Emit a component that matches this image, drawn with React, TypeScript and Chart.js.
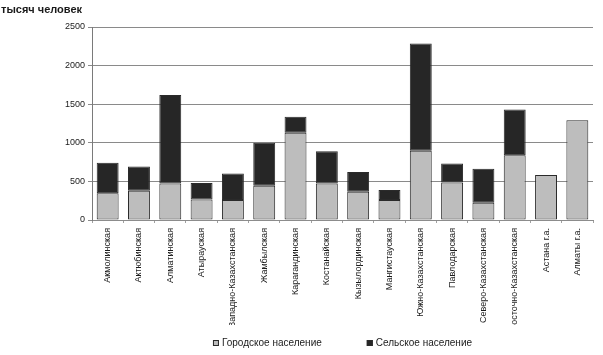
import React, { useEffect, useRef } from "react";
import { Chart, registerables } from "chart.js";

Chart.register(...registerables);

const categories = [
  "Акмолинская",
  "Актюбинская",
  "Алматинская",
  "Атырауская",
  "Западно-Казахстанская",
  "Жамбылская",
  "Карагандинская",
  "Костанайская",
  "Кызылординская",
  "Мангистауская",
  "Южно-Казахстанская",
  "Павлодарская",
  "Северо-Казахстанская",
  "Восточно-Казахстанская",
  "Астана г.а.",
  "Алматы г.а.",
];

const urbanPopulation = [345, 379, 474, 267, 259, 444, 1129, 474, 366, 259, 896, 487, 224, 840, 582, 1293];
const ruralPopulation = [395, 315, 1146, 211, 344, 556, 207, 418, 255, 129, 1389, 246, 440, 591, 0, 0];

const seriesNames = ["Городское население", "Сельское население"];
const unitLabel = "тысяч человек";
const yMax = 2500;
const yStep = 500;

const urbanColor = "#bdbdbd";
const ruralColor = "#262626";
const borderColor = "#2a2a2a";

const textPlugin = {
  id: "textPlugin",
  afterDraw(chart: any) {
    const ctx = chart.ctx as CanvasRenderingContext2D;
    const ca = chart.chartArea;
    ctx.save();
    ctx.fillStyle = "#1a1a1a";
    ctx.textBaseline = "alphabetic";
    ctx.textAlign = "left";
    ctx.font = 'bold 11px "Liberation Sans", Arial, sans-serif';
    ctx.fillText(unitLabel, 1, 13);

    ctx.font = '10px "Liberation Sans", Arial, sans-serif';
    const box = 6;
    const gap = 3;
    const sep = 45;
    const widths = seriesNames.map((t) => ctx.measureText(t).width);
    const total = widths.reduce((a, w) => a + box + gap + w, 0) + sep * (seriesNames.length - 1);
    let x = (ca.left + ca.right) / 2 - total / 2;
    const y = chart.height - 12;
    const colors = [urbanColor, ruralColor];
    seriesNames.forEach((t, i) => {
      ctx.fillStyle = colors[i];
      ctx.fillRect(x, y - box / 2, box, box);
      ctx.strokeStyle = borderColor;
      ctx.lineWidth = 1;
      ctx.strokeRect(x + 0.5, y - box / 2 + 0.5, box - 1, box - 1);
      ctx.fillStyle = "#1a1a1a";
      ctx.textBaseline = "middle";
      ctx.fillText(t, x + box + gap, y);
      x += box + gap + widths[i] + sep;
    });
    ctx.restore();
  },
};

export default function App() {
  const canvasRef = useRef<HTMLCanvasElement>(null);

  useEffect(() => {
    document.body.style.margin = "0";
    const canvas = canvasRef.current;
    if (!canvas) return;
    const zeroAware = (c: any) => (c.raw === 0 ? 0 : 1);
    const chart = new Chart(canvas, {
      type: "bar",
      data: {
        labels: categories,
        datasets: [
          {
            label: seriesNames[0],
            data: urbanPopulation,
            backgroundColor: urbanColor,
            borderColor: borderColor,
            borderWidth: zeroAware,
            borderSkipped: false,
          },
          {
            label: seriesNames[1],
            data: ruralPopulation,
            backgroundColor: ruralColor,
            borderColor: borderColor,
            borderWidth: zeroAware,
            borderSkipped: false,
          },
        ],
      },
      options: {
        animation: false,
        responsive: false,
        maintainAspectRatio: false,
        layout: { padding: { left: 0, right: 10, top: 27, bottom: 30 } },
        datasets: { bar: { categoryPercentage: 1, barPercentage: 0.7 } },
        plugins: {
          legend: { display: false },
          title: { display: false },
          tooltip: { enabled: false },
        },
        scales: {
          x: {
            stacked: true,
            offset: true,
            grid: {
              display: true,
              drawOnChartArea: false,
              drawTicks: true,
              tickLength: 3,
              offset: true,
              color: "#a0a0a0",
            },
            border: { display: true, color: "#8c8c8c" },
            ticks: {
              minRotation: 90,
              maxRotation: 90,
              autoSkip: false,
              padding: 5,
              color: "#1a1a1a",
              font: { family: '"Liberation Sans", Arial, sans-serif', size: 9 },
            },
            afterFit(scale: any) {
              scale.height = 105;
            },
          },
          y: {
            stacked: true,
            min: 0,
            max: yMax,
            ticks: {
              stepSize: yStep,
              padding: 3,
              color: "#1a1a1a",
              font: { family: '"Liberation Sans", Arial, sans-serif', size: 9 },
              callback: (v: any) => String(v),
            },
            grid: { color: "#8a8a8a", tickLength: 4, lineWidth: 1 },
            border: { display: true, color: "#7a7a7a" },
            afterFit(scale: any) {
              scale.width = 92;
            },
          },
        },
      },
      plugins: [textPlugin],
    });
    return () => chart.destroy();
  }, []);

  return (
    <div style={{ width: 603, height: 355 }}>
      <canvas ref={canvasRef} width={603} height={355} style={{ width: 603, height: 355, display: "block" }} />
    </div>
  );
}
